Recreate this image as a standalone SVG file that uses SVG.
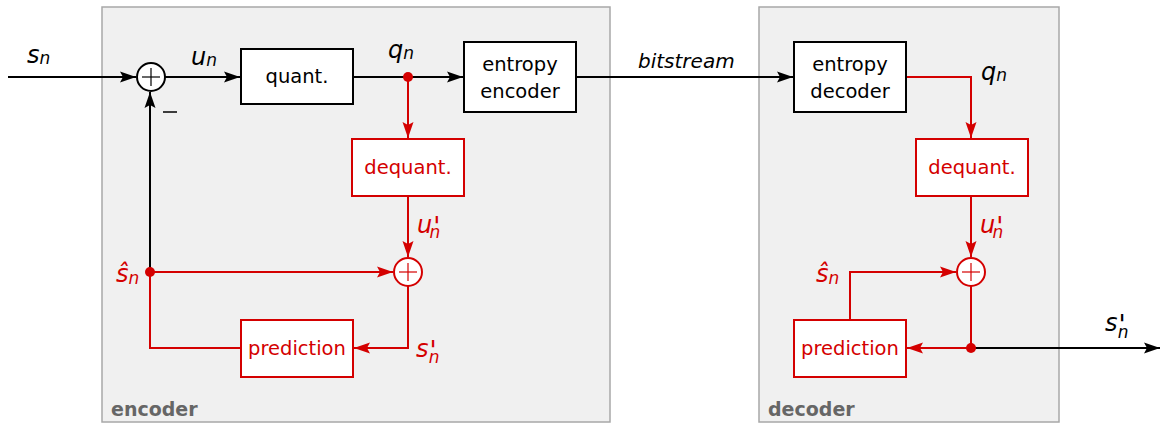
<svg xmlns="http://www.w3.org/2000/svg" width="1161" height="425" viewBox="0 0 1161 425">
  <style>
    .panel { fill: #f0f0f0; stroke: #a8a8a8; stroke-width: 1.5; }
    .panel-label { font-family: "DejaVu Sans", sans-serif; font-weight: bold; font-size: 19px; fill: #666666; }
    .box { fill: #ffffff; stroke: #000000; stroke-width: 2; }
    .box-r { fill: #ffffff; stroke: #d40000; stroke-width: 2; }
    .txt { font-family: "DejaVu Sans", sans-serif; font-size: 19.5px; fill: #000000; text-anchor: middle; }
    .txt-r { font-family: "DejaVu Sans", sans-serif; font-size: 19.5px; fill: #d40000; text-anchor: middle; }
    .math { font-family: "DejaVu Sans", sans-serif; font-style: italic; font-size: 24px; fill: #000000; }
    .math-r { font-family: "DejaVu Sans", sans-serif; font-style: italic; font-size: 24px; fill: #d40000; }
    .word { font-family: "DejaVu Sans", sans-serif; font-style: italic; font-size: 20px; fill: #000000; }
    .sub { font-size: 17px; }
    .pr { font-size: 26px; }
    .w { fill: none; stroke: #000000; stroke-width: 2; }
    .w-r { fill: none; stroke: #d40000; stroke-width: 2; }
    .sum { fill: #ffffff; stroke: #000000; stroke-width: 2; }
    .sum-r { fill: #ffffff; stroke: #d40000; stroke-width: 2; }
    .plus { stroke: #000000; stroke-width: 1.2; }
    .plus-r { stroke: #d40000; stroke-width: 1.2; }
    .dot-r { fill: #d40000; }
  </style>
  <defs>
    <marker id="ah" markerWidth="17" markerHeight="12" refX="16" refY="6" orient="auto" markerUnits="userSpaceOnUse">
      <path d="M0,0.5 L16,6 L0,11.5 L3,6 Z" fill="#000000"/>
    </marker>
    <marker id="ah-r" markerWidth="17" markerHeight="12" refX="16" refY="6" orient="auto" markerUnits="userSpaceOnUse">
      <path d="M0,0.5 L16,6 L0,11.5 L3,6 Z" fill="#d40000"/>
    </marker>
  </defs>

  <!-- panels -->
  <g id="encoder-panel">
    <rect class="panel" x="102" y="7" width="508" height="415"/>
    <text class="panel-label" x="111" y="416">encoder</text>
  </g>
  <g id="decoder-panel">
    <rect class="panel" x="759" y="7" width="300" height="415"/>
    <text class="panel-label" x="768" y="416">decoder</text>
  </g>

  <!-- connectors -->
  <g id="connectors">
    <!-- encoder forward path -->
    <line class="w" x1="8" y1="77" x2="136" y2="77" marker-end="url(#ah)"/>
    <line class="w" x1="165" y1="77" x2="240" y2="77" marker-end="url(#ah)"/>
    <line class="w" x1="353" y1="77" x2="463" y2="77" marker-end="url(#ah)"/>
    <line class="w" x1="576" y1="77" x2="793" y2="77" marker-end="url(#ah)"/>
    <!-- feedback into subtractor -->
    <line class="w" x1="150" y1="272" x2="150" y2="92" marker-end="url(#ah)"/>
    <!-- encoder reconstruction loop -->
    <line class="w-r" x1="408" y1="77" x2="408" y2="138" marker-end="url(#ah-r)"/>
    <line class="w-r" x1="408" y1="196" x2="408" y2="257" marker-end="url(#ah-r)"/>
    <line class="w-r" x1="150" y1="272" x2="393" y2="272" marker-end="url(#ah-r)"/>
    <polyline class="w-r" points="408,286 408,348 354,348" marker-end="url(#ah-r)"/>
    <polyline class="w-r" points="241,348 150,348 150,272"/>
    <!-- decoder path -->
    <polyline class="w-r" points="906,77 971,77 971,138" marker-end="url(#ah-r)"/>
    <line class="w-r" x1="971" y1="196" x2="971" y2="257" marker-end="url(#ah-r)"/>
    <polyline class="w-r" points="850,320 850,272 956,272" marker-end="url(#ah-r)"/>
    <polyline class="w-r" points="971,286 971,348 907,348" marker-end="url(#ah-r)"/>
    <line class="w" x1="971" y1="348" x2="1160" y2="348" marker-end="url(#ah)"/>
    <!-- branch points -->
    <circle class="dot-r" cx="408" cy="77" r="5"/>
    <circle class="dot-r" cx="150" cy="272" r="5"/>
    <circle class="dot-r" cx="971" cy="348" r="5"/>
  </g>

  <!-- encoder nodes -->
  <g id="enc-sum">
    <circle class="sum" cx="151" cy="77" r="14"/>
    <line class="plus" x1="142" y1="77" x2="160" y2="77"/>
    <line class="plus" x1="151" y1="68" x2="151" y2="86"/>
    <line x1="163" y1="112" x2="177" y2="112" stroke="#000000" stroke-width="1.5"/>
  </g>
  <g id="quant">
    <rect class="box" x="241" y="49" width="112" height="55"/>
    <text class="txt" x="297" y="83">quant.</text>
  </g>
  <g id="entropy-encoder">
    <rect class="box" x="464" y="42" width="112" height="70"/>
    <text class="txt" x="520" y="71">entropy</text>
    <text class="txt" x="520" y="98">encoder</text>
  </g>
  <g id="enc-dequant">
    <rect class="box-r" x="352" y="139" width="112" height="57"/>
    <text class="txt-r" x="408" y="174">dequant.</text>
  </g>
  <g id="enc-add">
    <circle class="sum-r" cx="408" cy="272" r="14"/>
    <line class="plus-r" x1="399" y1="272" x2="417" y2="272"/>
    <line class="plus-r" x1="408" y1="263" x2="408" y2="281"/>
  </g>
  <g id="enc-prediction">
    <rect class="box-r" x="241" y="320" width="112" height="57"/>
    <text class="txt-r" x="297" y="355">prediction</text>
  </g>

  <!-- decoder nodes -->
  <g id="entropy-decoder">
    <rect class="box" x="794" y="42" width="112" height="70"/>
    <text class="txt" x="850" y="71">entropy</text>
    <text class="txt" x="850" y="98">decoder</text>
  </g>
  <g id="dec-dequant">
    <rect class="box-r" x="916" y="139" width="112" height="57"/>
    <text class="txt-r" x="972" y="174">dequant.</text>
  </g>
  <g id="dec-add">
    <circle class="sum-r" cx="971" cy="272" r="14"/>
    <line class="plus-r" x1="962" y1="272" x2="980" y2="272"/>
    <line class="plus-r" x1="971" y1="263" x2="971" y2="281"/>
  </g>
  <g id="dec-prediction">
    <rect class="box-r" x="794" y="320" width="112" height="57"/>
    <text class="txt-r" x="850" y="355">prediction</text>
  </g>

  <!-- signal labels -->
  <g id="labels">
    <text class="math" x="27" y="63">s<tspan class="sub" dy="1">n</tspan></text>
    <text class="math" x="191" y="65">u<tspan class="sub" dy="1">n</tspan></text>
    <text class="math" x="388" y="58">q<tspan class="sub" dy="1">n</tspan></text>
    <text class="word" x="638" y="68">bitstream</text>
    <text class="math" x="981" y="80">q<tspan class="sub" dy="1">n</tspan></text>

    <text class="math-r" x="417" y="233">u<tspan class="pr" dx="1" dy="3">'</tspan><tspan class="sub" dx="-11" dy="2">n</tspan></text>
    <text class="math-r" x="980" y="233">u<tspan class="pr" dx="1" dy="3">'</tspan><tspan class="sub" dx="-11" dy="2">n</tspan></text>
    <text class="math-r" x="416" y="357">s<tspan class="pr" dx="1" dy="3">'</tspan><tspan class="sub" dx="-8" dy="3">n</tspan></text>
    <text class="math" x="1105" y="331">s<tspan class="pr" dx="1" dy="3">'</tspan><tspan class="sub" dx="-8" dy="4">n</tspan></text>

    <text class="math-r" x="116" y="282">ŝ<tspan class="sub" dy="2">n</tspan></text>
    <text class="math-r" x="816" y="282">ŝ<tspan class="sub" dy="2">n</tspan></text>
  </g>
</svg>
